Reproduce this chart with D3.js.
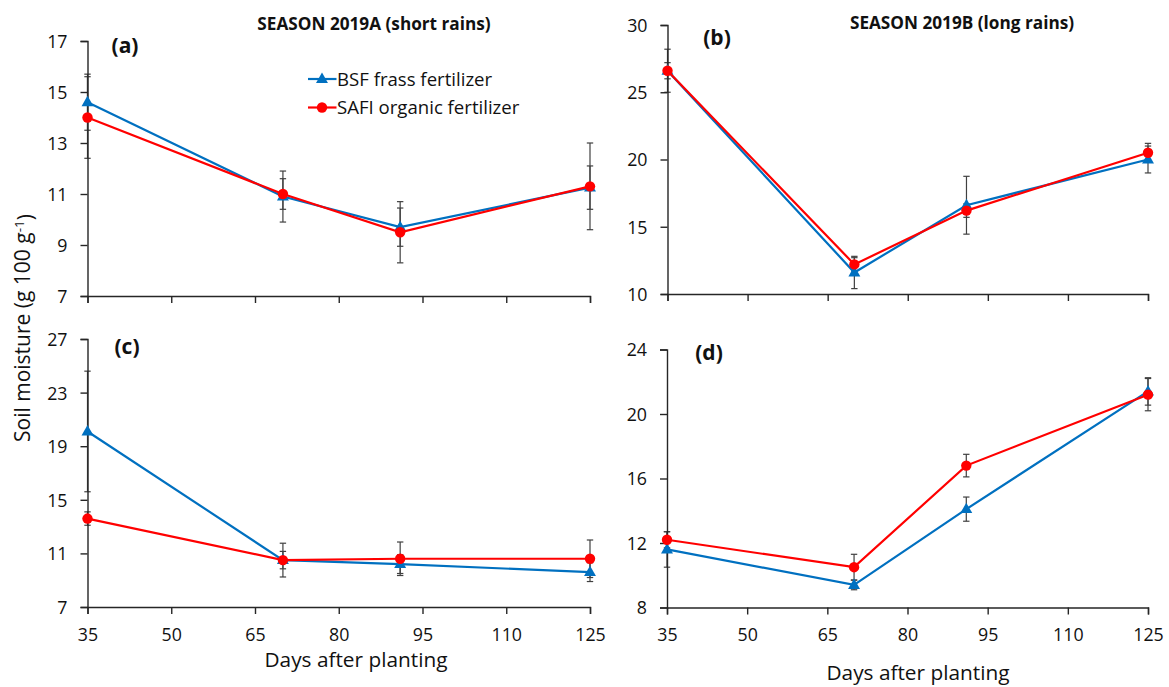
<!DOCTYPE html>
<html><head><meta charset="utf-8">
<script src="https://cdn.jsdelivr.net/npm/d3@7"></script>
<style>
html,body{margin:0;padding:0;background:#fff;}
svg{display:block;font-family:"Open Sans",Lato,sans-serif;}
</style></head>
<body>
<svg id="chart" width="1169" height="687"></svg>
<script>
// ---------- data ----------
const days = [35, 70, 91, 125];
const xTickValues = [35, 50, 65, 80, 95, 110, 125];
const seriesNames = ["BSF frass fertilizer", "SAFI organic fertilizer"];

// (a) Season 2019A
const bsfA = [14.6, 10.9, 9.7, 11.25];
const bsfAErr = [1.1, 1.0, 0.75, 0.85];
const safiA = [14.0, 11.0, 9.5, 11.3];
const safiAErr = [1.6, 0.6, 1.2, 1.7];
const yTicksA = [7, 9, 11, 13, 15, 17];

// (b) Season 2019B
const bsfB = [26.6, 11.6, 16.6, 20.0];
const bsfBErr = [0.6, 1.2, 2.15, 1.0];
const safiB = [26.6, 12.2, 16.2, 20.5];
const safiBErr = [1.6, 0.5, 0.5, 0.7];
const yTicksB = [10, 15, 20, 25, 30];

// (c)
const bsfC = [20.1, 10.5, 10.2, 9.6];
const bsfCErr = [4.5, 0.65, 0.7, 0.7];
const safiC = [13.6, 10.5, 10.6, 10.6];
const safiCErr = [0.5, 1.26, 1.25, 1.4];
const yTicksC = [7, 11, 15, 19, 23, 27];

// (d)
const bsfD = [11.6, 9.4, 14.1, 21.4];
const bsfDErr = [1.1, 0.3, 0.75, 0.85];
const safiD = [12.2, 10.5, 16.8, 21.2];
const safiDErr = [0.5, 0.8, 0.7, 1.0];
const yTicksD = [8, 12, 16, 20, 24];

const panelLabels = ["(a)", "(b)", "(c)", "(d)"];
const seasonTitles = ["SEASON 2019A (short rains)", "SEASON 2019B (long rains)"];
const xAxisTitle = "Days after planting";

// ---------- layout ----------
const BLUE = "#0070C0", RED = "#FF0000", AXIS = "#262626";
const svg = d3.select("#chart");

const panels = [
  {bsf: bsfA, bsfE: bsfAErr, safi: safiA, safiE: safiAErr, ticks: yTicksA,
   x0: 87.5, x1: 590, yT: 41, yB: 296, lab: [125, 53]},
  {bsf: bsfB, bsfE: bsfBErr, safi: safiB, safiE: safiBErr, ticks: yTicksB,
   x0: 667.5, x1: 1148, yT: 25, yB: 294, lab: [717, 45]},
  {bsf: bsfC, bsfE: bsfCErr, safi: safiC, safiE: safiCErr, ticks: yTicksC,
   x0: 87.5, x1: 590, yT: 339, yB: 607, lab: [127, 354], xlabel: [356, 667]},
  {bsf: bsfD, bsfE: bsfDErr, safi: safiD, safiE: safiDErr, ticks: yTicksD,
   x0: 667, x1: 1148, yT: 349.5, yB: 607.5, lab: [709, 360], xlabel: [918, 680]}
];

const tri = d3.symbol().type(d3.symbolTriangle).size(62);

panels.forEach((p, i) => {
  const x = d3.scaleLinear().domain([35, 125]).range([p.x0, p.x1]);
  const y = d3.scaleLinear().domain([p.ticks[0], p.ticks[p.ticks.length - 1]]).range([p.yB, p.yT]);
  const g = svg.append("g");

  const series = [
    {vals: p.bsf, err: p.bsfE, color: BLUE, marker: "tri"},
    {vals: p.safi, err: p.safiE, color: RED, marker: "circ"}
  ];

  // error bars
  series.forEach(s => {
    const eg = g.append("g").attr("stroke", "#404040").attr("stroke-width", 1.2);
    days.forEach((d, k) => {
      const cx = x(d), lo = y(s.vals[k] - s.err[k]), hi = y(s.vals[k] + s.err[k]);
      eg.append("line").attr("x1", cx).attr("x2", cx).attr("y1", lo).attr("y2", hi);
      eg.append("line").attr("x1", cx - 3.2).attr("x2", cx + 3.2).attr("y1", lo).attr("y2", lo);
      eg.append("line").attr("x1", cx - 3.2).attr("x2", cx + 3.2).attr("y1", hi).attr("y2", hi);
    });
  });

  // axes
  const xa = g.append("g").attr("transform", `translate(0,${p.yB})`)
    .call(d3.axisBottom(x).tickValues(xTickValues).tickSizeOuter(0).tickSize(7).tickPadding(14)
      .tickFormat(i >= 2 ? d3.format("d") : () => ""));
  const ya = g.append("g").attr("transform", `translate(${p.x0},0)`)
    .call(d3.axisLeft(y).tickValues(p.ticks).tickSizeOuter(0).tickSize(7).tickPadding(13));
  [xa, ya].forEach(a => {
    a.select(".domain").attr("stroke", AXIS).attr("stroke-width", 1.4);
    a.selectAll(".tick line").attr("stroke", AXIS).attr("stroke-width", 1.4);
    a.selectAll(".tick text").attr("fill", "#111").style("font-size", "17.8px")
      .style("font-family", "'Open Sans', sans-serif");
  });
  ya.selectAll(".tick text").attr("dy", "0.36em");

  // lines + markers
  series.forEach(s => {
    const line = d3.line().x((v, k) => x(days[k])).y(v => y(v));
    g.append("path").datum(s.vals).attr("d", line).attr("fill", "none")
      .attr("stroke", s.color).attr("stroke-width", 2.2);
    s.vals.forEach((v, k) => {
      if (s.marker === "tri") {
        g.append("path").attr("d", tri).attr("fill", s.color)
          .attr("transform", `translate(${x(days[k])},${y(v) + 0.5})`);
      } else {
        g.append("circle").attr("cx", x(days[k])).attr("cy", y(v)).attr("r", 5.2).attr("fill", s.color);
      }
    });
  });

  // panel label
  g.append("text").attr("x", p.lab[0]).attr("y", p.lab[1]).attr("text-anchor", "middle")
    .style("font-size", "21px").style("font-weight", "bold").attr("fill", "#111").text(panelLabels[i]);

  if (p.xlabel) {
    g.append("text").attr("x", p.xlabel[0]).attr("y", p.xlabel[1]).attr("text-anchor", "middle")
      .style("font-size", "20.8px").attr("fill", "#111").text(xAxisTitle);
  }
});

// season titles
svg.append("text").attr("x", 374).attr("y", 30).attr("text-anchor", "middle")
  .style("font-size", "17.2px").style("font-weight", "bold").attr("fill", "#111").text(seasonTitles[0]);
svg.append("text").attr("x", 962).attr("y", 29).attr("text-anchor", "middle")
  .style("font-size", "17.2px").style("font-weight", "bold").attr("fill", "#111").text(seasonTitles[1]);

// legend (inside panel a)
const leg = svg.append("g");
[[BLUE, "tri", 79], [RED, "circ", 107.5]].forEach((l, k) => {
  leg.append("line").attr("x1", 308).attr("x2", 336.5).attr("y1", l[2]).attr("y2", l[2])
    .attr("stroke", l[0]).attr("stroke-width", 2.2);
  if (l[1] === "tri") leg.append("path").attr("d", tri).attr("fill", l[0]).attr("transform", `translate(322,${l[2] + 0.5})`);
  else leg.append("circle").attr("cx", 322).attr("cy", l[2]).attr("r", 5.2).attr("fill", l[0]);
  leg.append("text").attr("x", 337).attr("y", l[2]).attr("dy", "0.36em")
    .style("font-size", "18.6px").attr("fill", "#111").text(seriesNames[k]);
});

// y axis title
const yt = svg.append("text").attr("transform", "translate(30,328) rotate(-90)")
  .attr("text-anchor", "middle").style("font-size", "21px").attr("fill", "#111");
yt.append("tspan").text("Soil moisture (g 100 g");
yt.append("tspan").attr("dy", "-0.45em").style("font-size", "13.5px").text("-1");
yt.append("tspan").attr("dy", "0.45em").text(")");
</script>
</body></html>
